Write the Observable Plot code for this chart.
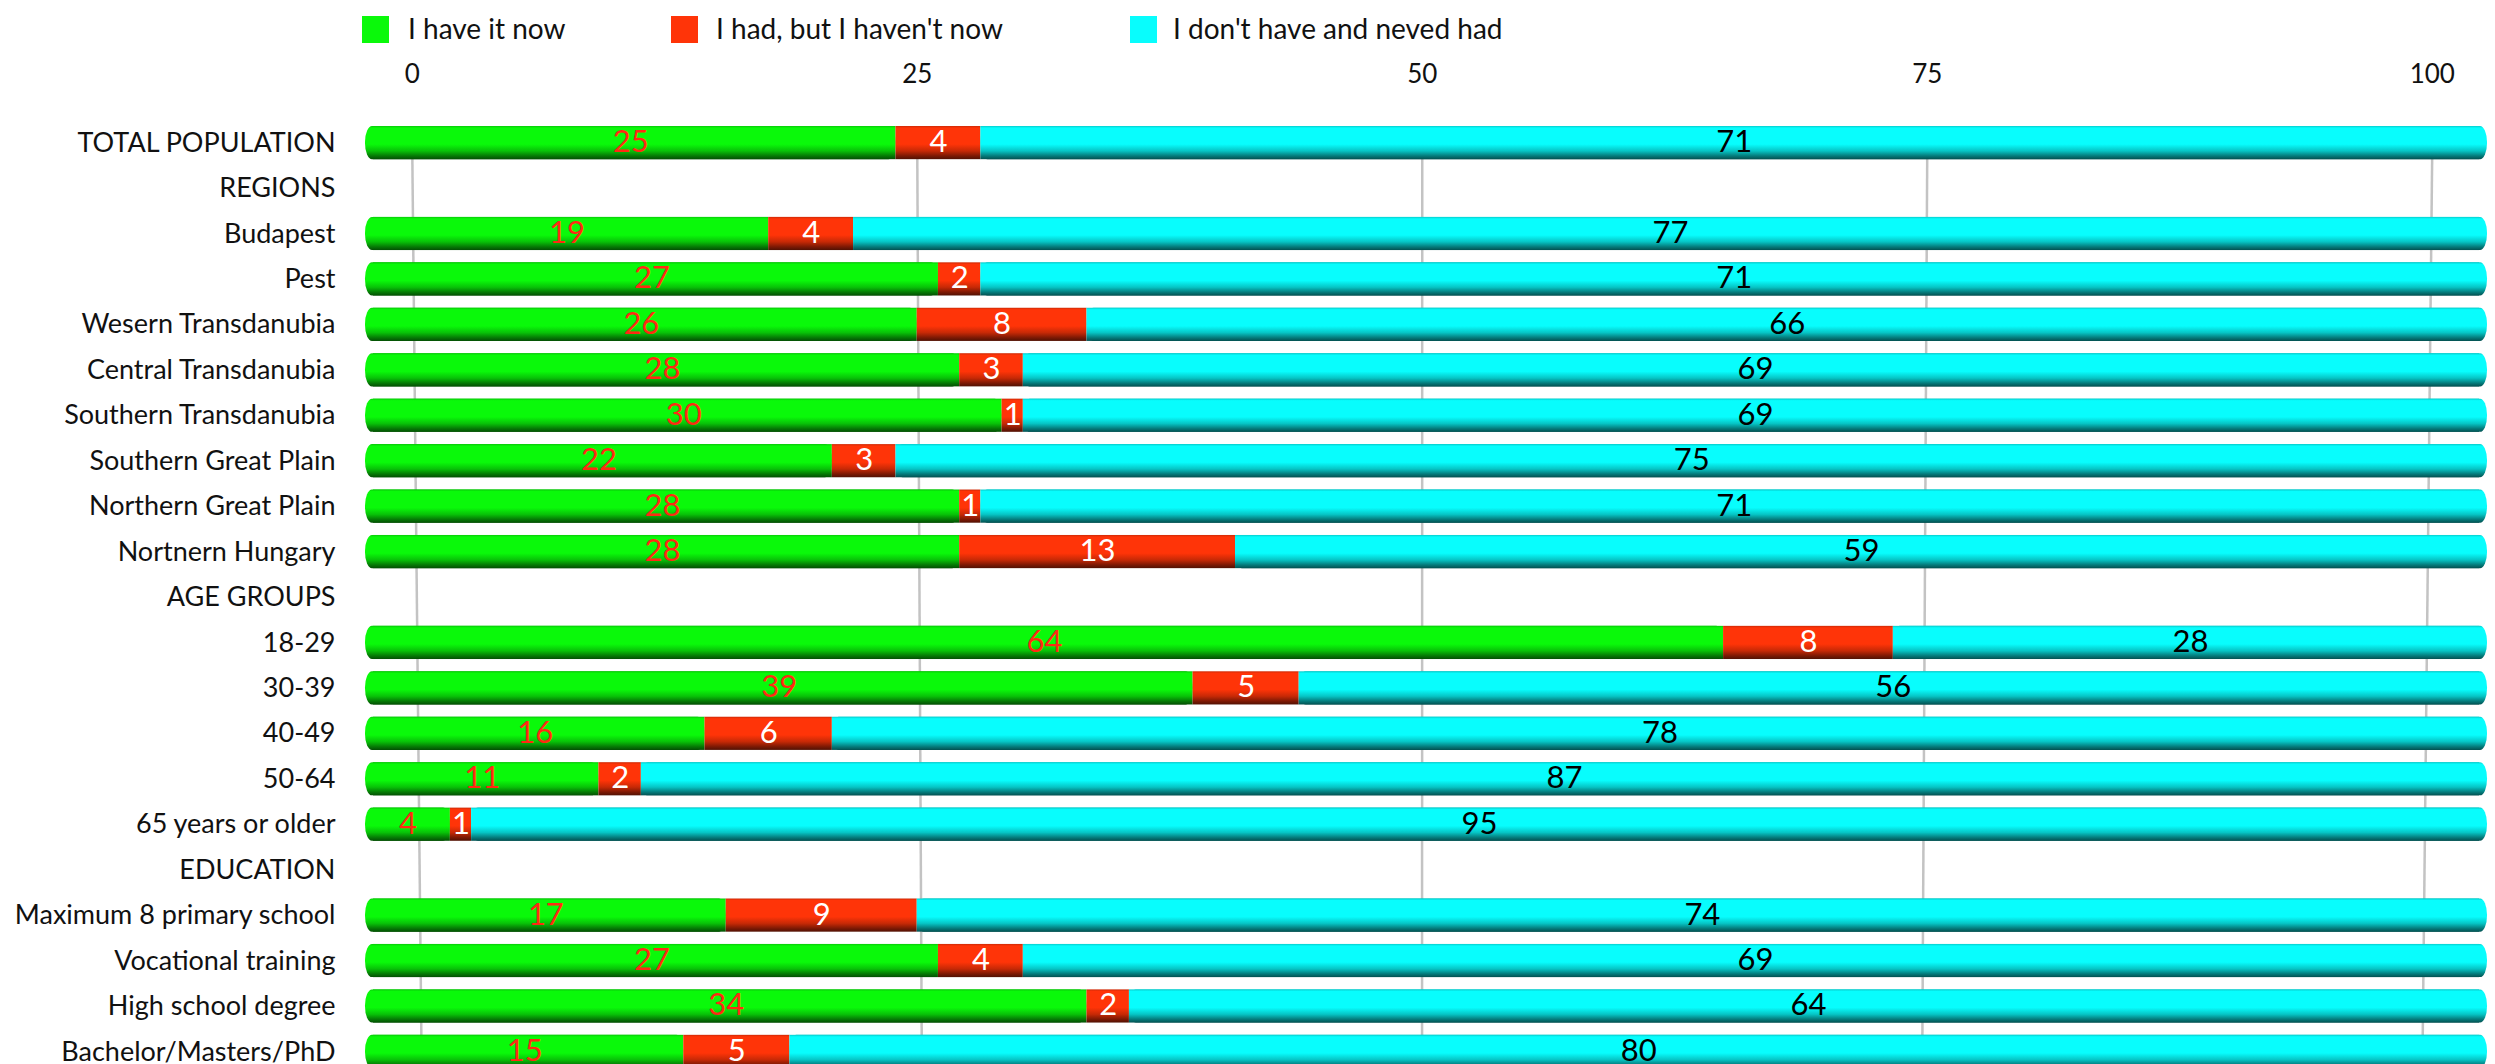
<!DOCTYPE html>
<html>
<head>
<meta charset="utf-8">
<script src="https://cdn.jsdelivr.net/npm/d3@7"></script>
<script src="https://cdn.jsdelivr.net/npm/@observablehq/plot@0.6"></script>
<style>
  html, body { margin: 0; padding: 0; background: #fff; overflow: hidden; }
  body { width: 2495px; height: 1064px; position: relative; font-family: Lato, "Noto Sans", sans-serif; }
  #legend { position: absolute; left: 0; top: 0; width: 2495px; height: 60px; z-index: 2; }
  .sw { position: absolute; top: 16px; width: 27px; height: 27px; }
  .lt { position: absolute; top: 11px; font-size: 28px; line-height: 34px; color: #111; white-space: nowrap; }
  #chart { position: absolute; left: 0; top: 0; }
</style>
</head>
<body>
<div id="legend"></div>
<div id="chart"></div>
<script>
// ---- data ----
const rows = [
  "TOTAL POPULATION", "REGIONS", "Budapest", "Pest", "Wesern Transdanubia",
  "Central Transdanubia", "Southern Transdanubia", "Southern Great Plain",
  "Northern Great Plain", "Nortnern Hungary", "AGE GROUPS", "18-29", "30-39",
  "40-49", "50-64", "65 years or older", "EDUCATION", "Maximum 8 primary school",
  "Vocational training", "High school degree", "Bachelor/Masters/PhD"
];
const series = ["I have it now", "I had, but I haven't now", "I don't have and neved had"];
const haveNow = {
  "TOTAL POPULATION": 25, "Budapest": 19, "Pest": 27, "Wesern Transdanubia": 26,
  "Central Transdanubia": 28, "Southern Transdanubia": 30, "Southern Great Plain": 22,
  "Northern Great Plain": 28, "Nortnern Hungary": 28, "18-29": 64, "30-39": 39,
  "40-49": 16, "50-64": 11, "65 years or older": 4, "Maximum 8 primary school": 17,
  "Vocational training": 27, "High school degree": 34, "Bachelor/Masters/PhD": 15
};
const hadBefore = {
  "TOTAL POPULATION": 4, "Budapest": 4, "Pest": 2, "Wesern Transdanubia": 8,
  "Central Transdanubia": 3, "Southern Transdanubia": 1, "Southern Great Plain": 3,
  "Northern Great Plain": 1, "Nortnern Hungary": 13, "18-29": 8, "30-39": 5,
  "40-49": 6, "50-64": 2, "65 years or older": 1, "Maximum 8 primary school": 9,
  "Vocational training": 4, "High school degree": 2, "Bachelor/Masters/PhD": 5
};
const neverHad = {
  "TOTAL POPULATION": 71, "Budapest": 77, "Pest": 71, "Wesern Transdanubia": 66,
  "Central Transdanubia": 69, "Southern Transdanubia": 69, "Southern Great Plain": 75,
  "Northern Great Plain": 71, "Nortnern Hungary": 59, "18-29": 28, "30-39": 56,
  "40-49": 78, "50-64": 87, "65 years or older": 95, "Maximum 8 primary school": 74,
  "Vocational training": 69, "High school degree": 64, "Bachelor/Masters/PhD": 80
};
const xTicks = [0, 25, 50, 75, 100];

// ---- styles ----
const baseColors = ["#0af90a", "#ff3408", "#08fdfd"];
const labelColors = ["#ff2a12", "#ffffff", "#000000"];
const gradIds = ["gGreen", "gRed", "gCyan"];

// ---- long table ----
const table = [];
const seriesValues = [haveNow, hadBefore, neverHad];
for (const r of rows) {
  if (!(r in haveNow)) continue;
  let acc = 0;
  series.forEach((s, i) => {
    const v = seriesValues[i][r];
    table.push({row: r, series: s, si: i, value: v, start: acc, end: acc + v});
    acc += v;
  });
}

// legend
const legend = document.getElementById("legend");
const legPos = [[362, 408], [671, 716], [1130, 1173]];
series.forEach((s, i) => {
  const sw = document.createElement("div");
  sw.className = "sw"; sw.style.left = legPos[i][0] + "px"; sw.style.background = baseColors[i];
  const t = document.createElement("div");
  t.className = "lt"; t.style.left = legPos[i][1] + "px"; t.textContent = s;
  legend.appendChild(sw); legend.appendChild(t);
});

// perspective of grid: tick value -> position on bar scale (top and bottom)
const gridTop = t => 2.2 + 0.952 * t;
const gridBottom = t => 2.64 + 0.943 * t;

const font = "Lato, 'Noto Sans', sans-serif";
const ends = table.filter(d => d.si !== 1); // outer segments get rounded caps
const plot = Plot.plot({
  width: 2495,
  height: 1070,
  marginLeft: 365,
  marginRight: 8,
  marginTop: 126,
  marginBottom: 2,
  style: {fontFamily: font, background: "transparent", overflow: "visible"},
  x: {domain: [0, 100], axis: null},
  y: {domain: rows, paddingInner: 0.27, paddingOuter: 0, round: false, label: null},
  color: {domain: series, range: gradIds.map(id => `url(#${id})`)},
  marks: [
    Plot.link(xTicks, {
      x1: gridTop, x2: gridBottom,
      y1: () => rows[0], y2: () => rows[rows.length - 1],
      stroke: "#c3c3c3", strokeWidth: 2.5
    }),
    // rounded caps underneath
    Plot.barX(ends, {x1: "start", x2: "end", y: "row", fill: "series", rx: 7, ry: 16}),
    // square segments on top
    Plot.barX(table, {
      filter: d => d.si === 0, x1: "start", x2: "end", y: "row", fill: "series", insetLeft: 8
    }),
    Plot.barX(table, {
      filter: d => d.si === 1, x1: "start", x2: "end", y: "row", fill: "series"
    }),
    Plot.barX(table, {
      filter: d => d.si === 2, x1: "start", x2: "end", y: "row", fill: "series", insetRight: 8
    }),
    ...series.map((s, i) => Plot.text(table, {
      filter: d => d.si === i,
      x: d => (d.start + d.end) / 2, y: "row", text: d => String(d.value),
      fill: labelColors[i], fontSize: 31, dy: -1
    })),
    Plot.text(xTicks, {
      x: gridTop, text: d => String(d), frameAnchor: "top", dy: -62,
      fontSize: 26, fill: "#111"
    }),
    Plot.axisY({tickSize: 0, tickPadding: 30, fontSize: 27, fill: "#111", label: null})
  ]
});

// gradients for cylinder look
const svg = d3.select(plot);
const defs = svg.insert("defs", ":first-child");
baseColors.forEach((c, i) => {
  const base = d3.rgb(c);
  const g = defs.append("linearGradient").attr("id", gradIds[i])
    .attr("x1", 0).attr("y1", 0).attr("x2", 0).attr("y2", 1);
  const stops = [
    [0, base.darker(0.6)],
    [0.06, base],
    [0.55, base],
    [0.75, base.darker(0.7)],
    [0.9, base.darker(2.0)],
    [1, base.darker(3.2)]
  ];
  stops.forEach(([o, col]) => g.append("stop").attr("offset", o).attr("stop-color", col.formatHex()));
});
document.getElementById("chart").appendChild(plot);
</script>
</body>
</html>
